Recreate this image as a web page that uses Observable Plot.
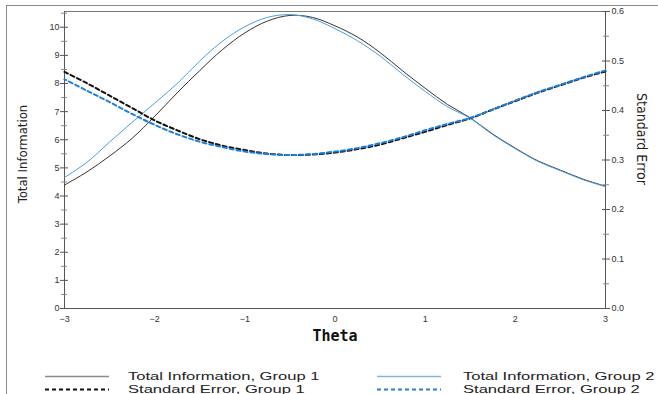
<!DOCTYPE html>
<html>
<head>
<meta charset="utf-8">
<script src="https://cdn.jsdelivr.net/npm/d3@7"></script>
<script src="https://cdn.jsdelivr.net/npm/@observablehq/plot@0.6"></script>
<style>
  html, body { margin: 0; padding: 0; background: #fff; }
  #wrap { position: relative; width: 658px; height: 394px; overflow: hidden; }
  #frame { position: absolute; left: 6px; top: 5px; width: 700px; height: 400px; border-left: 1px solid #8a8a8a; border-top: 1px solid #8a8a8a; pointer-events: none; }
  #chart { position: absolute; left: 0; top: 0; }
  #legend { position: absolute; left: 0; top: 370px; width: 658px; font-family: "Liberation Sans", Arial, sans-serif; font-size: 11.5px; color: #222; }
  .row { position: relative; height: 13px; line-height: 13px; white-space: nowrap; }
  .item { position: absolute; top: 0; }
  .item svg { position: absolute; top: 0; }
  .item span { position: absolute; top: 0; transform: scaleX(1.44); transform-origin: left center; }
</style>
</head>
<body>
<div id="wrap">
  <div id="chart"></div>
  <div id="frame"></div>
  <div id="legend"></div>
</div>
<script>
// ---- data ----
const theta = [-3, -2.75, -2.5, -2.25, -2, -1.75, -1.5, -1.25, -1, -0.75, -0.5, -0.25, 0, 0.25, 0.5, 0.75, 1, 1.25, 1.5, 1.75, 2, 2.25, 2.5, 2.75, 3];
const info1 = [4.39, 4.86, 5.42, 6.05, 6.83, 7.67, 8.46, 9.20, 9.80, 10.22, 10.42, 10.35, 10.05, 9.65, 9.10, 8.45, 7.83, 7.25, 6.78, 6.20, 5.70, 5.25, 4.92, 4.60, 4.35];
const info2 = [4.66, 5.20, 5.92, 6.62, 7.30, 8.00, 8.80, 9.50, 10.02, 10.35, 10.45, 10.30, 9.95, 9.52, 8.98, 8.33, 7.72, 7.17, 6.76, 6.18, 5.68, 5.23, 4.90, 4.58, 4.33];
const se1 = [0.478, 0.455, 0.430, 0.405, 0.380, 0.360, 0.342, 0.329, 0.320, 0.313, 0.310, 0.311, 0.315, 0.322, 0.331, 0.344, 0.357, 0.371, 0.384, 0.402, 0.419, 0.436, 0.451, 0.466, 0.479];
const se2 = [0.463, 0.440, 0.417, 0.393, 0.371, 0.352, 0.337, 0.326, 0.317, 0.312, 0.310, 0.312, 0.317, 0.324, 0.334, 0.346, 0.360, 0.373, 0.385, 0.402, 0.420, 0.437, 0.452, 0.467, 0.481];

const xTicks = [-3, -2, -1, 0, 1, 2, 3];
const infoTicks = [0, 1, 2, 3, 4, 5, 6, 7, 8, 9, 10];
const infoMinor = [0.5, 1.5, 2.5, 3.5, 4.5, 5.5, 6.5, 7.5, 8.5, 9.5, 10.5];
const seTicks = [0, 0.1, 0.2, 0.3, 0.4, 0.5, 0.6];
const seMinor = [0.05, 0.15, 0.25, 0.35, 0.45, 0.55];

const xLabel = "Theta";
const yLabelLeft = "Total Information";
const yLabelRight = "Standard Error";
const legendItems = [
  {label: "Total Information, Group 1", color: "#8c8c8c", dash: null, width: 1.5},
  {label: "Total Information, Group 2", color: "#7fb6de", dash: null, width: 1.5},
  {label: "Standard Error, Group 1", color: "#111111", dash: "4,3", width: 1.8},
  {label: "Standard Error, Group 2", color: "#2a7fd4", dash: "4,3", width: 1.8}
];

// ---- scales ----
const infoMax = 10.56;
const seMax = 0.6;
const k = infoMax / seMax; // maps SE onto the information axis

const rows1 = theta.map((t, i) => ({t, v: info1[i]}));
const rows2 = theta.map((t, i) => ({t, v: info2[i]}));
const srows1 = theta.map((t, i) => ({t, s: se1[i]}));
const srows2 = theta.map((t, i) => ({t, s: se2[i]}));

const axisColor = "#555";
const tickFont = "Liberation Sans, Arial, sans-serif";

const chart = Plot.plot({
  width: 658,
  height: 362,
  marginLeft: 64,
  marginRight: 53,
  marginTop: 11,
  marginBottom: 54,
  style: {fontFamily: tickFont, fontSize: "9px", color: "#333", background: "transparent"},
  x: {domain: [-3, 3], axis: null},
  y: {domain: [0, infoMax], axis: null},
  marks: [
    // axis lines
    Plot.ruleY([0], {stroke: axisColor}),
    Plot.ruleY([infoMax], {stroke: "#777"}),
    Plot.ruleX([-3], {stroke: axisColor}),
    Plot.ruleX([3], {stroke: axisColor}),
    // x tick labels
    Plot.axisX(xTicks, {anchor: "bottom", tickSize: 0, tickPadding: 7, label: null, fontSize: 9}),
    // left ticks (crossing)
    Plot.axisY(infoTicks, {anchor: "left", tickSize: 8, dx: 4, tickFormat: () => "", label: null, stroke: axisColor}),
    Plot.axisY(infoMinor, {anchor: "left", tickSize: 6, dx: 3, tickFormat: () => "", label: null, stroke: "#888"}),
    Plot.axisY(infoTicks, {anchor: "left", tickSize: 0, tickPadding: 5, label: null, fontSize: 9}),
    // right ticks
    Plot.axisY(seTicks.map(s => s * k), {anchor: "right", tickSize: 8, dx: -4, tickFormat: () => "", label: null, stroke: axisColor}),
    Plot.axisY(seMinor.map(s => s * k), {anchor: "right", tickSize: 6, dx: -3, tickFormat: () => "", label: null, stroke: "#888"}),
    Plot.axisY(seTicks.map(s => s * k), {anchor: "right", tickSize: 0, tickPadding: 6, label: null, fontSize: 9, tickFormat: d => (d / k).toFixed(1)}),
    // curves
    Plot.line(rows1, {x: "t", y: "v", stroke: "#333", strokeWidth: 1, curve: "catmull-rom"}),
    Plot.line(rows2, {x: "t", y: "v", stroke: "#4a9fdc", strokeWidth: 1, curve: "catmull-rom"}),
    Plot.line(srows1, {x: "t", y: d => d.s * k, stroke: "#111", strokeWidth: 2, strokeDasharray: "4,3", curve: "catmull-rom"}),
    Plot.line(srows2, {x: "t", y: d => d.s * k, stroke: "#1f7fd8", strokeWidth: 2, strokeDasharray: "4,3", strokeDashoffset: 2, curve: "catmull-rom"}),
    // titles
    Plot.text([xLabel], {frameAnchor: "bottom", dy: 32, text: d => d, textAnchor: "middle", fontFamily: "DejaVu Sans Mono, monospace", fontWeight: "bold", fontSize: 15, fill: "#111", letterSpacing: 3}),
    Plot.text([yLabelLeft], {frameAnchor: "left", dx: -42, dy: -6, rotate: -90, textAnchor: "middle", text: d => d, fontFamily: "DejaVu Sans Condensed, DejaVu Sans, sans-serif", fontSize: 13, fill: "#222"}),
    Plot.text([yLabelRight], {frameAnchor: "right", dx: 36, dy: -21, rotate: 90, textAnchor: "middle", text: d => d, fontFamily: "DejaVu Sans Condensed, DejaVu Sans, sans-serif", fontSize: 14, fill: "#222"})
  ]
});
document.getElementById("chart").appendChild(chart);

// ---- legend ----
const legend = document.getElementById("legend");
const positions = [
  {lineX: 45, textX: 128},
  {lineX: 377, textX: 463}
];
const layout = [[legendItems[0], legendItems[1]], [legendItems[2], legendItems[3]]];
layout.forEach(pair => {
  const row = document.createElement("div");
  row.className = "row";
  pair.forEach((it, j) => {
    const p = positions[j];
    const item = document.createElement("div");
    item.className = "item";
    item.style.left = p.lineX + "px";
    const sw = 64;
    item.innerHTML =
      `<svg width="${sw}" height="13" style="left:0"><line x1="0" x2="${sw}" y1="6.5" y2="6.5" stroke="${it.color}" stroke-width="${it.width}" ${it.dash ? `stroke-dasharray="${it.dash}"` : ""}/></svg>` +
      `<span style="left:${p.textX - p.lineX}px">${it.label}</span>`;
    row.appendChild(item);
  });
  legend.appendChild(row);
});
</script>
</body>
</html>
